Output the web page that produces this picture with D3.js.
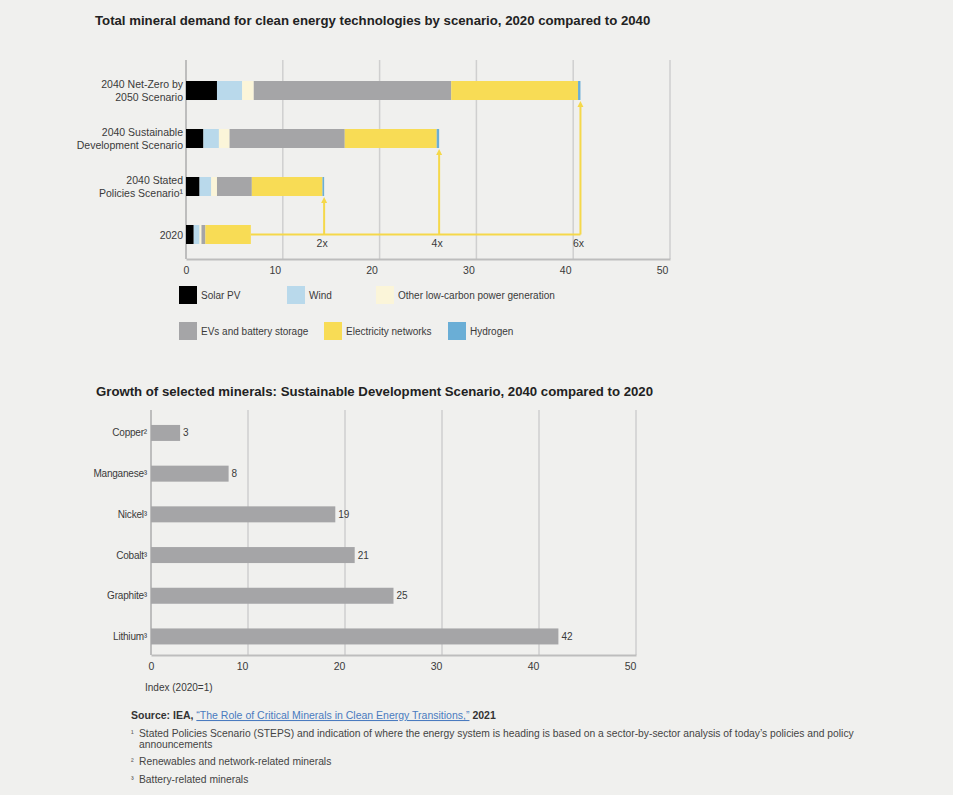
<!DOCTYPE html>
<html>
<head>
<meta charset="utf-8">
<script src="https://cdn.jsdelivr.net/npm/d3@7"></script>
<style>
  html, body { margin: 0; padding: 0; background: #f0f0ee; }
  svg { display: block; font-family: "Liberation Sans", Arial, sans-serif; }
</style>
</head>
<body>
<svg id="chart" width="953" height="795"></svg>
<script>
// ---------- DATA ----------
const scenarios = ["2040 Net-Zero by\n2050 Scenario", "2040 Sustainable\nDevelopment Scenario", "2040 Stated\nPolicies Scenario¹", "2020"];
const seriesNames = ["Solar PV", "Wind", "Other low-carbon power generation", "EVs and battery storage", "Electricity networks", "Hydrogen"];
const solarPV     = [3.2, 1.8, 1.4, 0.8];
const wind        = [2.6, 1.6, 1.2, 0.6];
const otherLowC   = [1.2, 1.1, 0.6, 0.2];
const evsBattery  = [20.4, 11.9, 3.6, 0.4];
const elecNetwork = [13.1, 9.5, 7.3, 4.7];
const hydrogen    = [0.25, 0.25, 0.17, 0];
const multipliers = ["6x", "4x", "2x"]; // for the three 2040 scenarios
const topTicks = [0, 10, 20, 30, 40, 50];

const minerals = ["Copper²", "Manganese³", "Nickel³", "Cobalt³", "Graphite³", "Lithium³"];
const growth   = [3, 8, 19, 21, 25, 42];
const bottomTicks = [0, 10, 20, 30, 40, 50];

const titleTop = "Total mineral demand for clean energy technologies by scenario, 2020 compared to 2040";
const titleBottom = "Growth of selected minerals: Sustainable Development Scenario, 2040 compared to 2020";
const axisLabelBottom = "Index (2020=1)";
const footnotes = [
  ["¹", "Stated Policies Scenario (STEPS) and indication of where the energy system is heading is based on a sector-by-sector analysis of today’s policies and policy", "announcements"],
  ["²", "Renewables and network-related minerals"],
  ["³", "Battery-related minerals"]
];

// ---------- STYLE ----------
const colors = ["#000000", "#b9d9eb", "#fbf5d9", "#a5a5a7", "#f8dc55", "#6aaed6"];
const gridColor = "#cfcfcf";
const axisColor = "#bdbdbd";
const textColor = "#3a3a3a";
const arrowColor = "#f5d84a";

const svg = d3.select("#chart");

// ---------- TOP CHART ----------
svg.append("text").attr("x", 95).attr("y", 25)
  .attr("font-size", 13.2).attr("font-weight", "bold").attr("fill", "#222")
  .text(titleTop);

const xTop = d3.scaleLinear().domain([0, 50]).range([186, 670]);
const yTop = d3.scaleBand().domain(scenarios).range([66.5, 258.5]).paddingInner(0.604).paddingOuter(0.302);
const topY0 = 60, topY1 = 259;

const gTop = svg.append("g");
gTop.selectAll("line.grid").data(topTicks.filter(d => d > 0)).join("line")
  .attr("x1", d => xTop(d)).attr("x2", d => xTop(d))
  .attr("y1", topY0).attr("y2", topY1)
  .attr("stroke", gridColor).attr("stroke-width", 1.5);

const axTop = gTop.append("g").attr("transform", `translate(0,${topY1})`)
  .call(d3.axisBottom(xTop).tickValues(topTicks).tickSize(0).tickPadding(8));
axTop.select(".domain").attr("stroke", axisColor).attr("stroke-width", 2);
axTop.selectAll(".tick text").attr("font-size", 10.5).attr("fill", textColor)
  .attr("font-family", "Liberation Sans, Arial, sans-serif")
  .attr("dx", d => d === 0 ? 0 : -8);
gTop.append("line").attr("x1", xTop(0)).attr("x2", xTop(0)).attr("y1", topY0).attr("y2", topY1)
  .attr("stroke", axisColor).attr("stroke-width", 2);

const seriesArrays = [solarPV, wind, otherLowC, evsBattery, elecNetwork, hydrogen];
const table = scenarios.map((s, i) => {
  const o = { scenario: s };
  seriesNames.forEach((n, k) => o[n] = seriesArrays[k][i]);
  return o;
});
const stacked = d3.stack().keys(seriesNames)(table);
const totals = table.map(r => d3.sum(seriesNames, n => r[n]));

const base = scenarios[3];
const baseY = yTop(base) + yTop.bandwidth() / 2;
const maxTotal = d3.max(totals.slice(0, 3));
const gArr = gTop.append("g");
gArr.append("line").attr("x1", xTop(totals[3])).attr("x2", xTop(maxTotal))
  .attr("y1", baseY).attr("y2", baseY)
  .attr("stroke", arrowColor).attr("stroke-width", 2);
scenarios.slice(0, 3).forEach((s, i) => {
  const x = xTop(totals[i]);
  const yEnd = yTop(s) + yTop.bandwidth() + 1;
  gArr.append("line").attr("x1", x).attr("x2", x).attr("y1", baseY).attr("y2", yEnd + 4)
    .attr("stroke", arrowColor).attr("stroke-width", 2);
  gArr.append("path")
    .attr("d", `M${x - 3},${yEnd + 6} L${x},${yEnd} L${x + 3},${yEnd + 6} Z`)
    .attr("fill", arrowColor);
  gArr.append("text").attr("x", x - 2).attr("y", baseY + 12)
    .attr("text-anchor", "middle").attr("font-size", 10.5).attr("fill", textColor)
    .text(multipliers[i]);
});

gTop.selectAll("g.series").data(stacked).join("g")
  .attr("fill", (d, i) => colors[i])
  .selectAll("rect").data(d => d).join("rect")
  .attr("x", d => xTop(d[0]))
  .attr("width", d => Math.max(0, xTop(d[1]) - xTop(d[0])))
  .attr("y", d => yTop(d.data.scenario))
  .attr("height", yTop.bandwidth());

scenarios.forEach(s => {
  const lines = s.split("\n");
  const cy = yTop(s) + yTop.bandwidth() / 2;
  const t = gTop.append("text").attr("text-anchor", "end").attr("font-size", 10.5).attr("fill", textColor);
  lines.forEach((l, j) => {
    t.append("tspan").attr("x", 183)
      .attr("y", cy + 4 + (j - (lines.length - 1) / 2) * 13)
      .text(l);
  });
});

const legendPos = [[179, 286], [287, 286], [376, 286], [179, 322], [324, 322], [448, 322]];
const lg = svg.append("g");
seriesNames.forEach((n, i) => {
  const [lx, ly] = legendPos[i];
  lg.append("rect").attr("x", lx).attr("y", ly).attr("width", 18).attr("height", 18).attr("fill", colors[i]);
  lg.append("text").attr("x", lx + 22).attr("y", ly + 12.5).attr("font-size", 10).attr("fill", textColor).text(n);
});

// ---------- BOTTOM CHART ----------
svg.append("text").attr("x", 96).attr("y", 396)
  .attr("font-size", 13.2).attr("font-weight", "bold").attr("fill", "#222")
  .text(titleBottom);

const xB = d3.scaleLinear().domain([0, 50]).range([151, 636]);
const yB = d3.scaleBand().domain(minerals).range([412.6, 656.8]).paddingInner(0.607).paddingOuter(0.3035);
const bY0 = 410, bY1 = 655;
const gB = svg.append("g");
gB.selectAll("line.grid").data(bottomTicks.filter(d => d > 0)).join("line")
  .attr("x1", d => xB(d)).attr("x2", d => xB(d))
  .attr("y1", bY0).attr("y2", bY1)
  .attr("stroke", gridColor).attr("stroke-width", 1.5);
const axB = gB.append("g").attr("transform", `translate(0,${bY1})`)
  .call(d3.axisBottom(xB).tickValues(bottomTicks).tickSize(0).tickPadding(8));
axB.select(".domain").attr("stroke", axisColor).attr("stroke-width", 2);
axB.selectAll(".tick text").attr("font-size", 10.5).attr("fill", textColor)
  .attr("font-family", "Liberation Sans, Arial, sans-serif")
  .attr("dx", d => d === 0 ? 0 : -6);
gB.append("line").attr("x1", xB(0)).attr("x2", xB(0)).attr("y1", bY0).attr("y2", bY1)
  .attr("stroke", axisColor).attr("stroke-width", 2);

gB.selectAll("rect.bar").data(minerals).join("rect")
  .attr("x", xB(0)).attr("y", d => yB(d))
  .attr("width", (d, i) => xB(growth[i]) - xB(0))
  .attr("height", yB.bandwidth())
  .attr("fill", "#a5a5a7");
gB.selectAll("text.val").data(minerals).join("text")
  .attr("x", (d, i) => xB(growth[i]) + 3)
  .attr("y", d => yB(d) + yB.bandwidth() / 2 + 3.5)
  .attr("font-size", 10).attr("fill", textColor)
  .text((d, i) => growth[i]);
gB.selectAll("text.cat").data(minerals).join("text")
  .attr("x", 147).attr("y", d => yB(d) + yB.bandwidth() / 2 + 3.5)
  .attr("text-anchor", "end").attr("font-size", 10).attr("fill", textColor)
  .attr("letter-spacing", -0.2)
  .text(d => d);
svg.append("text").attr("x", 145).attr("y", 691).attr("font-size", 10).attr("fill", textColor).text(axisLabelBottom);

// ---------- SOURCE & FOOTNOTES ----------
const src = svg.append("text").attr("x", 131).attr("y", 719).attr("font-size", 10.5).attr("fill", "#333");
src.append("tspan").attr("font-weight", "bold").text("Source: IEA, ");
src.append("tspan").attr("fill", "#4a7bbf").attr("text-decoration", "underline")
  .text("“The Role of Critical Minerals in Clean Energy Transitions,”");
src.append("tspan").attr("font-weight", "bold").text(" 2021");

const fnY = [[737, 748], [765], [783]];
footnotes.forEach((f, i) => {
  svg.append("text").attr("x", 131).attr("y", fnY[i][0] - 1).attr("font-size", 8).attr("fill", "#444").text(f[0]);
  f.slice(1).forEach((line, j) => {
    svg.append("text").attr("x", 139).attr("y", fnY[i][j]).attr("font-size", 10.3).attr("fill", "#444").text(line);
  });
});
</script>
</body>
</html>
